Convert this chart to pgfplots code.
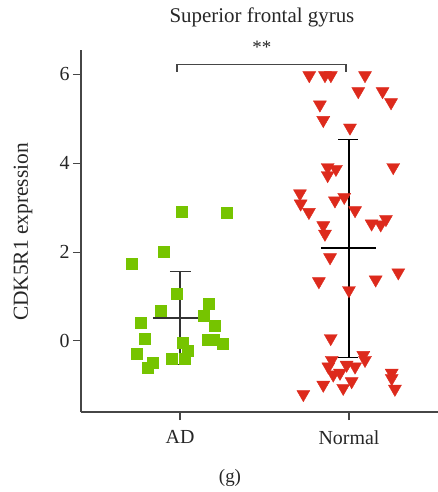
\documentclass[border=0pt]{standalone}
\usepackage{pgfplots}
\pgfplotsset{compat=1.18}
\usepackage{fontspec}
\setmainfont{Liberation Serif}
\definecolor{adgreen}{RGB}{118,196,0}
\definecolor{nred}{RGB}{221,42,28}
\definecolor{axgray}{RGB}{70,70,70}
\begin{document}
\begin{tikzpicture}
\begin{axis}[
  at={(0,0)}, anchor=south west,
  scale only axis, width=357bp, height=362bp,
  xmin=0.414, xmax=2.527, ymin=-1.6, ymax=6.55,
  axis x line=bottom, axis y line=left,
  axis line style={-, axgray, line width=1.3bp},
  xtick={1,2}, xticklabels={AD,Normal},
  ytick={0,2,4,6},
  tick style={axgray, line width=1.1bp},
  tick align=outside, major tick length=8bp,
  /pgf/number format/assume math mode=true,
  tick label style={font=\fontsize{20}{24}\selectfont, text=black!85},
  xticklabel style={yshift=-7bp},
  clip=false,
]
% AD points
\addplot[only marks, mark=square*, mark size=5.5bp, color=adgreen, mark options={draw=adgreen, fill=adgreen}] coordinates {
(1.008,2.90) (1.274,2.88) (0.901,2.02) (0.712,1.75) (0.978,1.07)
(1.167,0.83) (0.883,0.67) (1.138,0.56) (0.765,0.40) (1.203,0.35)
(0.789,0.04) (1.014,-0.03) (1.164,0.02) (1.197,0.02) (1.250,-0.07)
(1.043,-0.21) (0.741,-0.28) (0.949,-0.39) (1.025,-0.39) (0.836,-0.50)
(0.807,-0.61)
};
% Normal points
\addplot[only marks, mark=triangle*, mark size=7.5bp, color=nred, mark options={draw=nred, fill=nred, rotate=180}] coordinates {
(1.765,5.98) (1.858,5.98) (1.893,5.98) (2.095,5.98) (2.055,5.62)
(2.199,5.62) (2.249,5.37) (1.828,5.32) (1.848,4.97) (2.006,4.80)
(2.262,3.91) (1.874,3.91) (1.923,3.87) (1.874,3.73) (1.710,3.32)
(1.714,3.09) (1.763,2.90) (1.917,3.16) (1.972,3.24) (2.036,2.94)
(1.848,2.60) (1.858,2.41) (2.134,2.64) (2.188,2.62) (2.219,2.74)
(1.888,1.88) (1.822,1.34) (2.158,1.38) (2.292,1.54) (2.000,1.14)
(1.892,0.06) (2.085,-0.32) (2.095,-0.43) (1.898,-0.43) (1.878,-0.58)
(1.986,-0.54) (2.036,-0.58) (1.947,-0.72) (1.907,-0.76) (2.016,-0.91)
(1.966,-1.06) (1.848,-0.99) (1.730,-1.20) (2.253,-0.72) (2.253,-0.84)
(2.272,-1.08)
};
% AD mean and SD
\addplot[black!80, line width=1.4bp] coordinates {(0.84,0.52) (1.16,0.52)};
\addplot[black!80, line width=1.4bp] coordinates {(1,-0.53) (1,1.56)};
\addplot[black!80, line width=1.4bp] coordinates {(0.94,1.56) (1.065,1.56)};
\addplot[black!80, line width=1.4bp] coordinates {(0.94,-0.53) (1.065,-0.53)};
% Normal mean and SD
\addplot[black, line width=1.3bp] coordinates {(1.834,2.09) (2.158,2.09)};
\addplot[black, line width=1.3bp] coordinates {(2,-0.38) (2,4.54)};
\addplot[black, line width=1.3bp] coordinates {(1.937,4.54) (2.055,4.54)};
\addplot[black, line width=1.3bp] coordinates {(1.937,-0.38) (2.055,-0.38)};
% significance bracket
\addplot[axgray, line width=1.3bp] coordinates {(0.982,6.06) (0.982,6.23) (1.982,6.23) (1.982,6.06)};
\node[font=\fontsize{19}{22}\selectfont, text=black!85] at (axis cs:1.485,6.60) {**};
\end{axis}
\node[font=\fontsize{21}{25}\selectfont, text=black!85] at (181bp,395bp) {Superior frontal gyrus};
\node[font=\fontsize{21.5}{25}\selectfont, text=black!85, rotate=90] at (-58bp,180bp) {CDK5R1 expression};
\node[font=\fontsize{19}{22}\selectfont, text=black!85] at (149bp,-66bp) {(g)};
\pgfresetboundingbox
\path[use as bounding box] (-81bp,-80bp) rectangle (357bp,412bp);
\end{tikzpicture}
\end{document}
